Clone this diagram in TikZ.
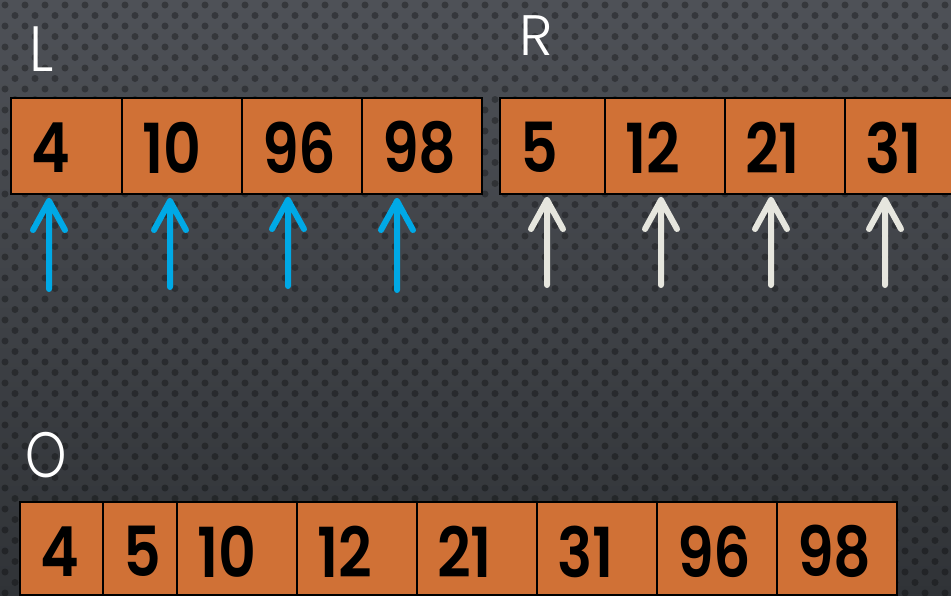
\documentclass[tikz,border=0pt]{standalone}
\usepackage{fontspec}
\setmainfont{Poppins}
\newfontfamily\digitfont{Poppins SemiBold}
\newfontfamily\labfont{Poppins Light}
\definecolor{bgtop}{RGB}{78,81,87}
\definecolor{bgbot}{RGB}{48,51,55}
\definecolor{cellorange}{RGB}{208,113,54}
\definecolor{arrowblue}{RGB}{0,169,230}
\definecolor{arrowgrey}{RGB}{230,230,222}
\newcommand\narrowdigits[1]{\scalebox{0.85}[1]{#1}}
\tikzset{
  cell/.style={draw=black, line width=2.5pt, fill=cellorange, minimum height=96pt,
    inner sep=0pt, outer sep=0pt, minimum width=#1, anchor=west},
  lowcell/.style={cell=#1, minimum height=93pt},
  num/.style={inner sep=0pt, anchor=west, font=\fontsize{69}{69}\digitfont},
  lab/.style={text=white, inner sep=0pt, anchor=base west},
  bluearrow/.style={draw=arrowblue, line width=6pt, line cap=round, line join=round},
  greyarrow/.style={draw=arrowgrey, line width=6pt, line cap=round, line join=round},
  dotfill/.style={fill=black, fill opacity=0.3}
}
\begin{document}
\begin{tikzpicture}[x=1pt,y=-1pt]
\useasboundingbox (0,0) rectangle (951,595);
\clip (0,0) rectangle (951,595);
\shade[top color=bgtop, bottom color=bgbot] (0,0) rectangle (951,595);
\foreach \r in {0,...,57}{
  \foreach \c in {0,...,48}{
    \fill[dotfill] ({\c*20 + mod(\r,2)*10 + 5},{\r*10.5 + 5}) circle (3.5pt);
  }
}
% labels
\node[lab, font=\fontsize{64}{64}\labfont] (labL) at (29,71) {\scalebox{0.9}[1]{L}};
\node[lab, font=\fontsize{57}{57}\labfont] (labR) at (519,55) {R};
\node[lab, font=\fontsize{64}{64}\labfont] (labO) at (25,477) {\scalebox{0.82}[1]{O}};
% L row
\node[cell=111] (l1) at (11,146) {};
\node[cell=120] (l2) at (l1.east) {};
\node[cell=120] (l3) at (l2.east) {};
\node[cell=120] (l4) at (l3.east) {};
% R row
\node[cell=105] (r1) at (500,146) {};
\node[cell=120] (r2) at (r1.east) {};
\node[cell=120] (r3) at (r2.east) {};
\node[cell=120] (r4) at (r3.east) {};
% O row
\node[lowcell=83] (o1) at (20,548.5) {};
\node[lowcell=74] (o2) at (o1.east) {};
\node[lowcell=120] (o3) at (o2.east) {};
\node[lowcell=120] (o4) at (o3.east) {};
\node[lowcell=120] (o5) at (o4.east) {};
\node[lowcell=120] (o6) at (o5.east) {};
\node[lowcell=120] (o7) at (o6.east) {};
\node[lowcell=120] (o8) at (o7.east) {};
% numbers
\foreach \n/\t in {l1/4,l2/10,l3/96,l4/98,r1/5,r2/12,r3/21,r4/31}{
  \node[num] (t\n) at ([xshift=20pt,yshift=-1.5pt]\n.west) {\narrowdigits{\t}};
}
\foreach \n/\t in {o1/4,o2/5,o3/10,o4/12,o5/21,o6/31,o7/96,o8/98}{
  \node[num] (t\n) at ([xshift=20pt,yshift=-3pt]\n.west) {\narrowdigits{\t}};
}
% arrow coordinates
\coordinate (bt1) at (49,201);  \coordinate (bb1) at (49,289);
\coordinate (bt2) at (170,201); \coordinate (bb2) at (170,287);
\coordinate (bt3) at (288,200); \coordinate (bb3) at (288,286);
\coordinate (bt4) at (397,201); \coordinate (bb4) at (397,290);
\coordinate (gt1) at (547,200); \coordinate (gb1) at (547,285);
\coordinate (gt2) at (661,200); \coordinate (gb2) at (661,285);
\coordinate (gt3) at (771,200); \coordinate (gb3) at (771,285);
\coordinate (gt4) at (885,200); \coordinate (gb4) at (885,285);
\foreach \i in {1,...,4}{
  \draw[bluearrow] (bb\i) -- (bt\i) -- +(-16,29) (bt\i) -- +(16,29);
  \draw[greyarrow] (gb\i) -- (gt\i) -- +(-16,29) (gt\i) -- +(16,29);
}
\end{tikzpicture}
\end{document}
